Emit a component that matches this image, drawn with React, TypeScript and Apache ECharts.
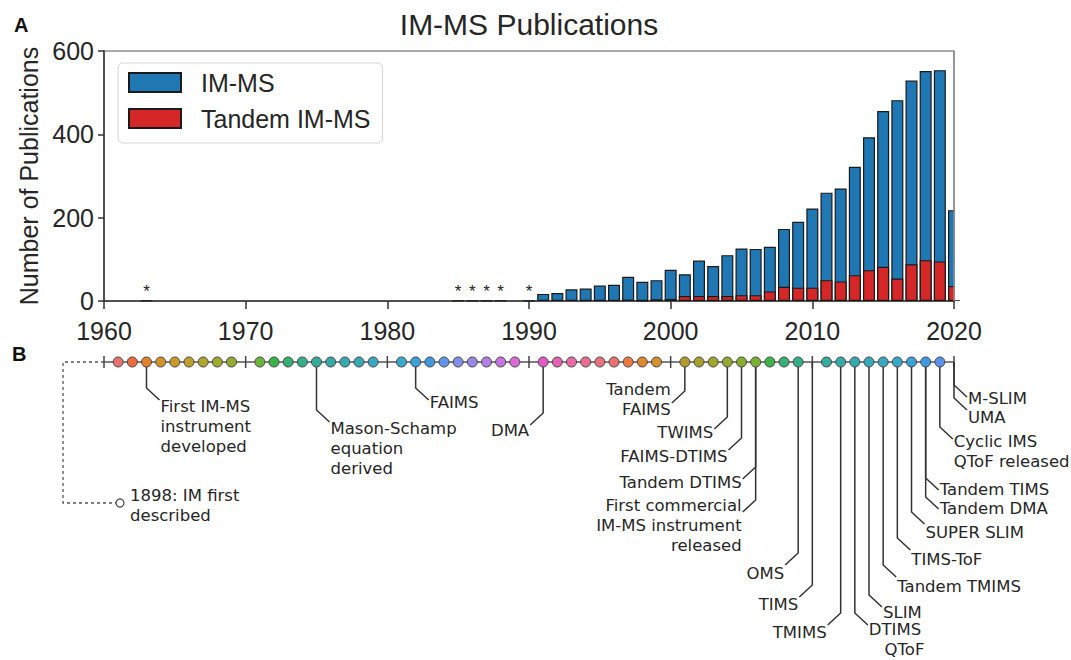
import React, { useEffect, useRef } from "react";
import * as echarts from "echarts";

// ---------- Panel A data: publications per year ----------
const imYears = [
  1963, 1985, 1986, 1987, 1988, 1990,
  1991, 1992, 1993, 1994, 1995, 1996, 1997, 1998, 1999, 2000,
  2001, 2002, 2003, 2004, 2005, 2006, 2007, 2008, 2009, 2010,
  2011, 2012, 2013, 2014, 2015, 2016, 2017, 2018, 2019, 2020,
];
const imCounts = [
  1, 1, 1, 1, 1, 1,
  17, 19, 28, 30, 37, 39, 58, 46, 50, 75,
  64, 97, 84, 110, 126, 125, 130, 173, 190, 222,
  260, 270, 322, 393, 456, 482, 529, 552, 554, 218,
];
const tandemYears = [
  1997, 1998, 1999, 2000,
  2001, 2002, 2003, 2004, 2005, 2006, 2007, 2008, 2009, 2010,
  2011, 2012, 2013, 2014, 2015, 2016, 2017, 2018, 2019, 2020,
];
const tandemCounts = [
  3, 1, 4, 5,
  12, 12, 12, 12, 14, 14, 23, 34, 32, 32,
  50, 47, 62, 74, 82, 54, 88, 98, 95, 36,
];
const starYears = [1963, 1985, 1986, 1987, 1988, 1990];
const seriesNames = ["IM-MS", "Tandem IM-MS"];
const titleText = "IM-MS Publications";
const yAxisTitle = "Number of Publications";

// ---------- Panel B data: timeline ----------
const decades = [1960, 1970, 1980, 1990, 2000, 2010, 2020];
const dotYears = [
  1961, 1962, 1963, 1964, 1965, 1966, 1967, 1968, 1969,
  1971, 1972, 1973, 1974, 1975, 1976, 1977, 1978, 1979,
  1981, 1982, 1983, 1984, 1985, 1986, 1987, 1988, 1989,
  1991, 1992, 1993, 1994, 1995, 1996, 1997, 1998, 1999,
  2001, 2002, 2003, 2004, 2005, 2006, 2007, 2008, 2009,
  2011, 2012, 2013, 2014, 2015, 2016, 2017, 2018, 2019,
];
const eventYears = [
  1963, 1975, 1982, 1991, 2001, 2004, 2005, 2006, 2006, 2009, 2010,
  2012, 2013, 2014, 2015, 2016, 2017, 2018, 2018, 2019, 2020, 2020,
];
const eventLabels = [
  "First IM-MS\ninstrument\ndeveloped",
  "Mason-Schamp\nequation\nderived",
  "FAIMS",
  "DMA",
  "Tandem\nFAIMS",
  "TWIMS",
  "FAIMS-DTIMS",
  "Tandem DTIMS",
  "First commercial\nIM-MS instrument\nreleased",
  "OMS",
  "TIMS",
  "TMIMS",
  "DTIMS\n   QToF",
  "SLIM",
  "Tandem TMIMS",
  "TIMS-ToF",
  "SUPER SLIM",
  "Tandem TIMS",
  "Tandem DMA",
  "Cyclic IMS\nQToF released",
  "M-SLIM",
  "UMA",
];
const prehistoryLabel = "1898: IM first\ndescribed";

// ---------- styling / layout (not data) ----------
const dotColors = [
  "#e8706e", "#ec6a3c", "#e4822c", "#d6902b", "#c99a2a", "#bba02b", "#ada52c", "#a0a82e", "#94ab2f",
  "#6fb43a", "#3ab54a", "#33b06e", "#33b08a", "#33ad9a", "#34aba6", "#35aab0", "#36a9b9", "#38a8c0",
  "#3aa7cc", "#3c9fd6", "#4298e0", "#5f94e8", "#7f8ee8", "#9a87e8", "#b27ee6", "#c874e0", "#dc68d8",
  "#e459c8", "#e860b2", "#e96aa0", "#ea6e90", "#ea7080", "#ea7070", "#ea7a40", "#e08530", "#d4902c",
  "#b09a2c", "#a8a02c", "#a0a52e", "#95a82e", "#88ad30", "#7bb033", "#3ab54a", "#35b070", "#33ae8a",
  "#33ac9c", "#34aba6", "#35aab0", "#36a9b8", "#38a8c0", "#3aa6cb", "#3c9fd8", "#3e98e2", "#5c90e8",
];
// [bend depth below timeline (px), side (1 right / -1 left), text offset]
const eventLayout: [number, number, number][] = [
  [26, 1, 6], [48, 1, 6], [26, 1, 2], [51, -1, 5], [29, -1, -14], [55, -1, 3],
  [76, -1, 6], [105, -1, 3], [138, -1, -7], [191, -1, 8], [223, -1, 7], [251, -1, 7],
  [251, 1, 4], [233, 1, 5], [203, 1, 9], [176, 1, 9], [150, 1, 8], [116, 1, -1],
  [135, 1, -1], [65, 1, 2], [23, 1, 1], [36, 1, 7],
];

const SANS = "Liberation Sans";
const TL = "DejaVu Sans";
const INK = "#262626";
const TLFONT = 16.5;
const GRID_L = 104;
const GRID_T = 51;
const GRID_W = 850;
const GRID_H = 250;

export default function App() {
  const ref = useRef<HTMLDivElement>(null);

  useEffect(() => {
    if (!ref.current) return;
    const chart = echarts.init(ref.current, null, { renderer: "svg" });

    const option: any = {
      animation: false,
      backgroundColor: "#ffffff",
      graphic: [
        { type: "text", x: 14, y: 15, style: { text: "A", fontSize: 20, fontWeight: "bold", fontFamily: SANS, fill: "#111" } },
        { type: "text", x: 12, y: 344, style: { text: "B", fontSize: 20, fontWeight: "bold", fontFamily: SANS, fill: "#111" } },
        { type: "text", x: 529, y: 9, style: { text: titleText, fontSize: 30, fontFamily: SANS, fill: INK, align: "center" } },
        // mask the part of the last (2020) bar that overhangs the plot frame, then redraw the frame edge
        {
          type: "rect", z: 100, silent: true,
          shape: { x: GRID_L + GRID_W + 0.75, y: GRID_T - 6, width: 14, height: GRID_H + 5.2 },
          style: { fill: "#ffffff" },
        },
        {
          type: "line", z: 101, silent: true,
          shape: { x1: GRID_L + GRID_W, y1: GRID_T, x2: GRID_L + GRID_W, y2: GRID_T + GRID_H },
          style: { stroke: "#8c8c8c", lineWidth: 1.5 },
        },
      ],
      legend: {
        data: seriesNames,
        orient: "vertical",
        left: 118,
        top: 63,
        icon: "rect",
        itemWidth: 52,
        itemHeight: 19,
        itemGap: 11,
        padding: [7, 12, 12, 10],
        borderColor: "#d4d4d4",
        borderWidth: 1,
        borderRadius: 5,
        backgroundColor: "#ffffff",
        selectedMode: false,
        textStyle: { fontSize: 25, color: INK, fontFamily: SANS, padding: [0, 0, 0, 15] },
      },
      grid: [
        { left: GRID_L, top: GRID_T, width: GRID_W, height: GRID_H, show: true, borderColor: "#8c8c8c", borderWidth: 1.5, backgroundColor: "transparent" },
        { left: GRID_L, top: 342, width: GRID_W, height: 318 },
      ],
      xAxis: [
        {
          gridIndex: 0, type: "value", min: 1960, max: 2020, interval: 10,
          axisLine: { show: true, onZero: false, lineStyle: { color: "#333", width: 1.5 } },
          axisTick: { show: true, length: 8, lineStyle: { color: "#333", width: 1.5 } },
          axisLabel: { fontSize: 25, color: INK, fontFamily: SANS, margin: 17, formatter: (v: number) => String(v) },
          splitLine: { show: false },
        },
        { gridIndex: 1, type: "value", min: 1960, max: 2020, show: false },
      ],
      yAxis: [
        {
          gridIndex: 0, type: "value", min: 0, max: 600, interval: 200,
          name: yAxisTitle, nameLocation: "middle", nameGap: 60,
          nameTextStyle: { fontSize: 25, color: INK, fontFamily: SANS },
          axisLine: { show: true, lineStyle: { color: "#333", width: 1.5 } },
          axisTick: { show: true, length: 6, lineStyle: { color: "#333", width: 1.5 } },
          axisLabel: { fontSize: 25, color: INK, fontFamily: SANS, margin: 10 },
          splitLine: { show: false },
        },
        { gridIndex: 1, type: "value", min: -20, max: 298, inverse: true, show: false },
      ],
      series: [
        {
          name: seriesNames[0], type: "bar", xAxisIndex: 0, yAxisIndex: 0,
          barWidth: 12, barGap: "-100%", z: 2,
          data: imYears.map((y, i) => [y, imCounts[i]]),
          itemStyle: { color: "#1f77b4", borderColor: "#1a1a1a", borderWidth: 1.2 },
          label: {
            show: true, position: "top", distance: 0, fontSize: 17, fontFamily: SANS, color: "#222",
            formatter: (p: any) => (starYears.indexOf(p.value[0]) >= 0 ? "*" : ""),
          },
        },
        {
          name: seriesNames[1], type: "bar", xAxisIndex: 0, yAxisIndex: 0,
          barWidth: 12, barGap: "-100%", z: 3,
          data: tandemYears.map((y, i) => [y, tandemCounts[i]]),
          itemStyle: { color: "#d62728", borderColor: "#1a1a1a", borderWidth: 1.2 },
        },
        {
          type: "custom", xAxisIndex: 1, yAxisIndex: 1, z: 1, silent: true,
          data: decades.map((d) => [d, 0]),
          renderItem: (params: any, api: any) => {
            const [x, y] = api.coord([api.value(0), 0]);
            const children: any[] = [
              { type: "line", shape: { x1: x, y1: y - 6, x2: x, y2: y + 6 }, style: { stroke: "#444", lineWidth: 1.5 } },
            ];
            if (params.dataIndex === 0) {
              const end = api.coord([decades[decades.length - 1], 0]);
              children.push({ type: "line", shape: { x1: x, y1: y, x2: end[0], y2: y }, style: { stroke: "#555", lineWidth: 1.5 } });
              children.push({
                type: "polyline",
                shape: { points: [[x, y], [x - 41, y], [x - 41, y + 141], [x + 12, y + 141]] },
                style: { stroke: "#555", lineWidth: 1.3, lineDash: [3, 3], fill: "none" },
              });
              children.push({ type: "circle", shape: { cx: x + 16, cy: y + 141, r: 4 }, style: { fill: "#fff", stroke: "#444", lineWidth: 1.2 } });
              children.push({
                type: "text", x: x + 26, y: y + 123,
                style: { text: prehistoryLabel, fill: INK, fontSize: TLFONT, fontFamily: TL, align: "left", verticalAlign: "top", lineHeight: 20 },
              });
            }
            return { type: "group", children };
          },
        },
        {
          type: "custom", xAxisIndex: 1, yAxisIndex: 1, z: 2, silent: true,
          data: eventYears.map((y) => [y, 0]),
          renderItem: (params: any, api: any) => {
            const i = params.dataIndex;
            const [depth, side, textDy] = eventLayout[i];
            const [x, y0] = api.coord([api.value(0), 0]);
            const yb = y0 + depth;
            const ex = x + side * 13;
            const ey = yb + 12;
            return {
              type: "group",
              children: [
                { type: "polyline", shape: { points: [[x, y0], [x, yb], [ex, ey]] }, style: { stroke: "#333", lineWidth: 1.5, fill: "none" } },
                {
                  type: "text", x: ex + side * 1, y: ey + textDy - 10,
                  style: {
                    text: eventLabels[i], fill: INK, fontSize: TLFONT, fontFamily: TL,
                    align: side > 0 ? "left" : "right", verticalAlign: "top", lineHeight: 20,
                  },
                },
              ],
            };
          },
        },
        {
          type: "scatter", xAxisIndex: 1, yAxisIndex: 1, z: 5, silent: true,
          symbol: "circle", symbolSize: 10,
          data: dotYears.map((y, i) => ({ value: [y, 0], itemStyle: { color: dotColors[i] } })),
          itemStyle: { borderColor: "#444", borderWidth: 1, opacity: 1 },
        },
      ],
    };

    chart.setOption(option);
    return () => chart.dispose();
  }, []);

  return (
    <div
      ref={ref}
      style={{ position: "fixed", left: 0, top: 0, width: 1071, height: 660, background: "#fff" }}
    />
  );
}
